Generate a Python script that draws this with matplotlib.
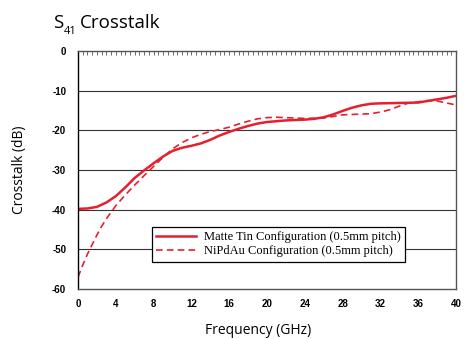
import matplotlib
matplotlib.use("Agg")
from matplotlib import pyplot
from matplotlib.ticker import MultipleLocator

pyplot.rcParams['axes.unicode_minus'] = False

# Matte Tin configuration (solid)
tin_freq = [0, 1, 2, 3, 4, 5, 6, 7, 8, 9, 10, 11, 12, 13, 14, 15, 16, 17, 18,
            19, 20, 22, 24, 25, 26, 27, 28, 29, 30, 31, 32, 34, 36, 37, 38, 39, 40]
tin_db = [-39.8, -39.7, -39.3, -38.2, -36.6, -34.4, -32.0, -30.1, -28.3, -26.6,
          -25.2, -24.4, -23.9, -23.3, -22.4, -21.3, -20.4, -19.6, -18.9, -18.3,
          -17.9, -17.5, -17.3, -17.1, -16.7, -16.0, -15.1, -14.3, -13.7, -13.3,
          -13.2, -13.1, -13.0, -12.6, -12.2, -11.8, -11.3]

# NiPdAu configuration (dashed)
nip_freq = [0, 0.5, 1, 1.5, 2, 2.5, 3, 4, 5, 6, 7, 8, 9, 10, 11, 12, 13, 14,
            15, 16, 17, 18, 19, 20, 21, 22, 24, 26, 27, 28, 30, 31, 32, 33, 34,
            35, 36, 37, 38, 39, 40]
nip_db = [-57.0, -54.0, -51.2, -48.8, -46.4, -44.2, -42.3, -39.0, -36.3, -33.8,
          -31.4, -29.1, -26.8, -24.7, -23.1, -21.9, -21.0, -20.3, -19.8, -19.2,
          -18.4, -17.7, -17.1, -16.8, -16.7, -16.8, -17.0, -16.9, -16.5, -16.1,
          -15.9, -15.8, -15.4, -14.8, -13.9, -13.1, -12.8, -12.5, -12.6, -13.1,
          -13.6]

xticks = list(range(0, 41, 4))
yticks = list(range(-60, 1, 10))

red = '#e5202e'

fig = pyplot.figure(figsize=(4.71, 3.39), dpi=100)
ax = fig.add_axes([78 / 471, 1 - 289 / 339, 378 / 471, 238 / 339])

ax.plot(tin_freq, tin_db, color=red, lw=1.8, label='Matte Tin Configuration (0.5mm pitch)')
ax.plot(nip_freq, nip_db, color=red, lw=1.2, ls=(0, (4, 2.5)),
        label='NiPdAu Configuration (0.5mm pitch)')

ax.set_xlim(0, 40)
ax.set_ylim(-60, 0)
ax.set_xticks(xticks)
ax.set_xticklabels([str(t) for t in xticks])
ax.set_yticks(yticks)
ax.set_yticklabels([str(t) for t in yticks])
ax.xaxis.set_minor_locator(MultipleLocator(0.5))

for t in yticks[1:-1]:
    ax.axhline(t, color='#333333', lw=0.8, zorder=0)

ax.tick_params(axis='x', which='both', bottom=False, top=True, direction='in',
               length=3, width=0.6, color='#555555', pad=7)
ax.tick_params(axis='y', left=False, pad=5)
for lab in ax.get_xticklabels() + ax.get_yticklabels():
    lab.set_fontfamily('Liberation Sans')
    lab.set_fontweight('bold')
    lab.set_fontsize(7)

ax.spines['left'].set_color('black')
ax.spines['left'].set_linewidth(1.0)
for s in ['top', 'right', 'bottom']:
    ax.spines[s].set_color('#555555')
    ax.spines[s].set_linewidth(1.0)

leg = ax.legend(loc='upper left', bbox_to_anchor=(152 / 471, 1 - 227 / 339),
                bbox_transform=fig.transFigure, borderaxespad=0,
                fancybox=False, framealpha=1, edgecolor='black',
                prop={'family': 'Liberation Serif', 'size': 9},
                handlelength=3.2, handletextpad=0.6, labelspacing=0.15,
                borderpad=0.35)
leg.get_frame().set_linewidth(0.9)

# title with subscript
fig.text(53 / 471, 1 - 28 / 339, 'S', fontsize=13.5, family='Open Sans', va='baseline')
fig.text(64 / 471, 1 - 34 / 339, '41', fontsize=8, family='Open Sans', va='baseline')
fig.text(80 / 471, 1 - 28 / 339, 'Crosstalk', fontsize=13.5, family='Open Sans', va='baseline')

fig.text(20 / 471, 1 - 170 / 339, 'Crosstalk (dB)', rotation=90, fontsize=10,
         family='Open Sans', ha='center', va='center')
fig.text(258 / 471, 1 - 331 / 339, 'Frequency (GHz)', fontsize=10,
         family='Open Sans', ha='center', va='center')

fig.savefig('out.png', dpi=100)
